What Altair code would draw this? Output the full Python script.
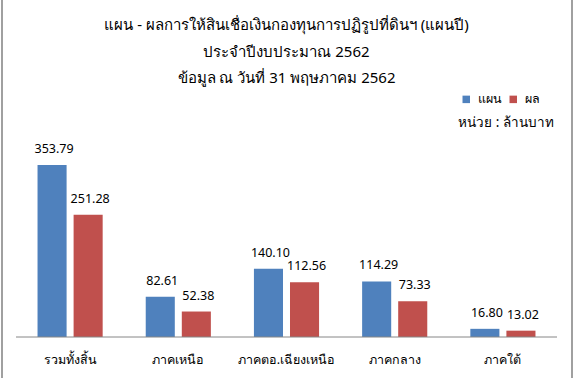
import altair as alt
import pandas as pd

categories = ["รวมทั้งสิ้น", "ภาคเหนือ", "ภาคตอ.เฉียงเหนือ", "ภาคกลาง", "ภาคใต้"]
series_names = ["แผน", "ผล"]
plan_values = [353.79, 82.61, 140.10, 114.29, 16.80]
result_values = [251.28, 52.38, 112.56, 73.33, 13.02]
colors = ["#4F81BD", "#C0504D"]
title_lines = [
    "แผน - ผลการให้สินเชื่อเงินกองทุนการปฏิรูปที่ดินฯ (แผนปี)",
    "ประจำปีงบประมาณ 2562",
    "ข้อมูล ณ วันที่ 31 พฤษภาคม 2562",
]
unit_label = "หน่วย : ล้านบาท"

rows = []
for i, c in enumerate(categories):
    rows.append({"cat": c, "series": series_names[0], "value": plan_values[i], "label": f"{plan_values[i]:.2f}"})
    rows.append({"cat": c, "series": series_names[1], "value": result_values[i], "label": f"{result_values[i]:.2f}"})
df = pd.DataFrame(rows)

FONT = "Tahoma, Noto Sans, DejaVu Sans, sans-serif"

x_enc = alt.X("cat:N", sort=categories, title=None,
              scale=alt.Scale(paddingInner=0, paddingOuter=0),
              axis=alt.Axis(labelAngle=0, ticks=False, domain=False, labelFontSize=12.5,
                            labelFont=FONT, labelColor="#000000", labelPadding=16))
xoff = alt.XOffset("series:N", sort=series_names,
                   scale=alt.Scale(paddingInner=0.194, paddingOuter=0.597))
y_enc = alt.Y("value:Q", scale=alt.Scale(domain=[0, 405]), axis=None)

base = alt.Chart(df)

bars = base.mark_bar().encode(
    x=x_enc, xOffset=xoff, y=y_enc,
    color=alt.Color("series:N", sort=series_names,
                    scale=alt.Scale(domain=series_names, range=colors),
                    legend=alt.Legend(title=None, orient="none", direction="horizontal",
                                      legendX=444, legendY=-47, symbolType="square",
                                      symbolSize=56, symbolStrokeWidth=0,
                                      labelFontSize=12.5, labelFont=FONT, labelColor="#000000",
                                      labelOffset=5, columnPadding=5, symbolOffset=0)),
)

labels = base.mark_text(baseline="alphabetic", dy=-12, dx=2, fontSize=12.5, font=FONT,
                        color="#000000").encode(
    x=x_enc, xOffset=xoff, y=y_enc, text="label:N"
)

zero = pd.DataFrame({"v": [0]})
baseline = alt.Chart(zero).mark_rule(color="#868686", strokeWidth=1).encode(
    y=alt.Y("v:Q", scale=alt.Scale(domain=[0, 405]), axis=None),
)

unit = alt.Chart(pd.DataFrame({"t": [unit_label]})).mark_text(
    align="right", baseline="alphabetic", fontSize=13.5, font=FONT, color="#000000"
).encode(x=alt.value(538), y=alt.value(-13), text="t:N")

title = alt.Chart(zero).mark_text(
    align="center", baseline="alphabetic", fontSize=15, font=FONT, color="#000000",
    lineHeight=26.5
).encode(x=alt.value(270.5), y=alt.value(-110), text=alt.value(title_lines))

frame_l = alt.Chart(zero).mark_rule(color="#808080", strokeWidth=1.5).encode(
    x=alt.value(-14), y=alt.value(-150), y2=alt.value(250))
frame_r = alt.Chart(zero).mark_rule(color="#808080", strokeWidth=1.5).encode(
    x=alt.value(556), y=alt.value(-150), y2=alt.value(250))

chart = alt.layer(bars, labels, baseline, unit, title, frame_l, frame_r).properties(
    width=541, height=197,
    autosize=alt.AutoSizeParams(type="none"),
    padding={"left": 16, "top": 140, "right": 16, "bottom": 41},
).configure_view(stroke=None).resolve_scale(y="shared")

chart.save("out.html", embed_options={"renderer": "svg", "actions": False})
